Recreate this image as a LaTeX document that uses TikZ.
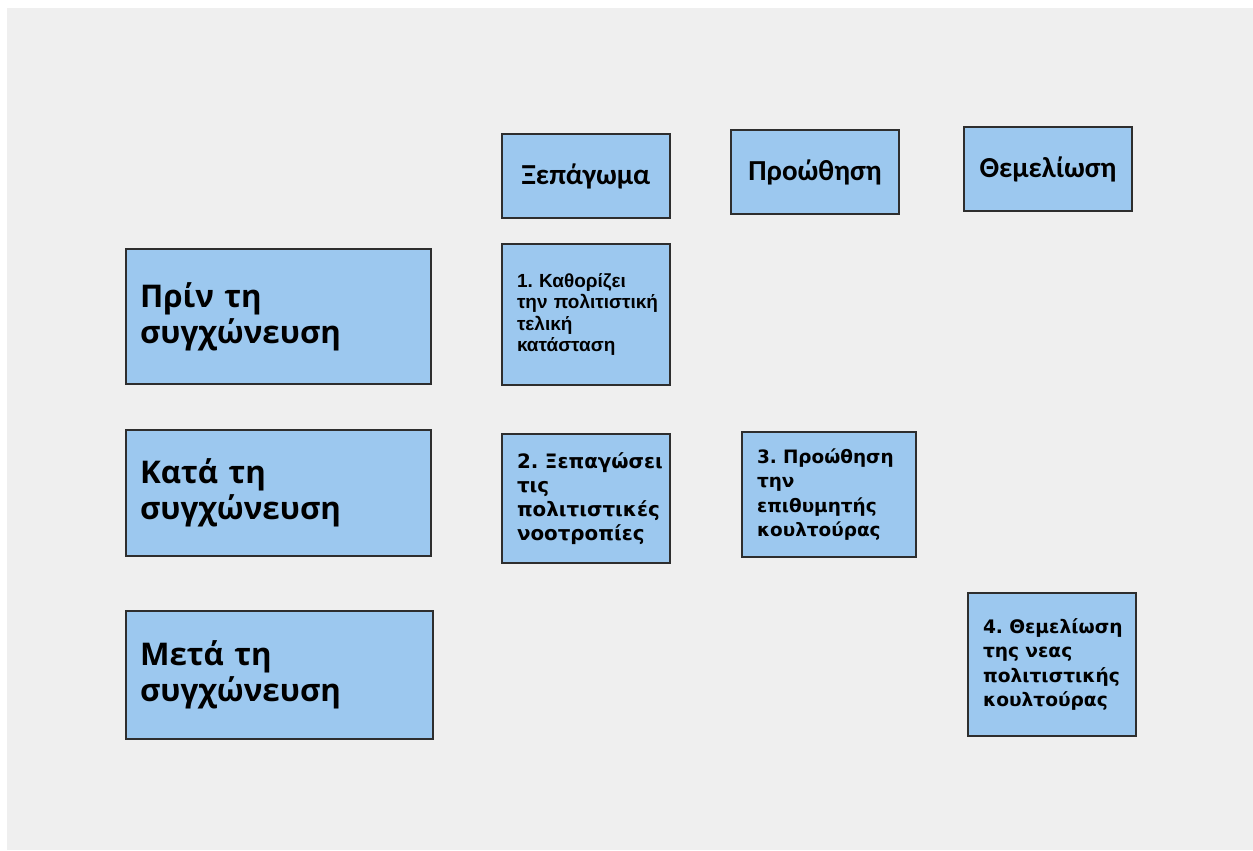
\documentclass[tikz,border=0pt]{standalone}
\usepackage{fontspec}
\setmainfont{Liberation Sans}
\newfontfamily\bigfont{Open Sans}
\newfontfamily\hdrfont{Carlito}
\newfontfamily\widefont{DejaVu Sans}
\definecolor{pagegray}{HTML}{EFEFEF}
\definecolor{boxblue}{HTML}{9CC8EF}
\definecolor{boxline}{HTML}{2E2E2E}
\tikzset{
  box/.style={draw=boxline, line width=1.3pt, fill=boxblue, inner sep=0pt},
  hdrbox/.style={box, minimum width=3.36cm, minimum height=1.68cm,
    font=\hdrfont\bfseries\fontsize{16.5}{19}\selectfont},
  stagebox/.style={box, align=left, text width=6.1cm,
    execute at begin node={\leftskip=0.28cm},
    font=\bigfont\bfseries\fontsize{17.8}{20.5}\selectfont},
  stepbox/.style={box, align=left, text width=3.36cm,
    execute at begin node={\leftskip=0.3cm\frenchspacing}}
}
\begin{document}
\begin{tikzpicture}[x=0.02cm, y=-0.02cm]
            \useasboundingbox (0,0) rectangle (1253,850);
            \fill[white] (0,0) rectangle (1253,850);
            \fill[pagegray] (7,8) rectangle (1253,850);
            % column headers
            \node[hdrbox] (xepagoma) at (586,176) {Ξεπάγωμα};
            \node[hdrbox] (proothisi) at (815,172) {Προώθηση};
            \node[hdrbox] (themeliosi) at (1048,169) {Θεμελίωση};
            % stages
            \node[stagebox, minimum height=2.7cm] (prin) at (278.5,316.5) {Πρίν τη\\συγχώνευση};
            \node[stagebox, minimum height=2.52cm] (kata) at (278.5,493) {Κατά τη\\συγχώνευση};
            \node[stagebox, text width=6.14cm, minimum height=2.56cm] (meta) at (279.5,675) {Μετά τη\\συγχώνευση};
            % steps
            \node[stepbox, minimum height=2.82cm, font=\bfseries\fontsize{10.8}{12.3}\selectfont]
            (vima1) at (586,314.5) {1. Καθορίζει\\την πολιτιστική\\τελική\\κατάσταση};
            \node[stepbox, minimum height=2.58cm, font=\widefont\bfseries\fontsize{11.3}{13.8}\selectfont]
            (vima2) at (586,498.5) {2.~Ξεπαγώσει\\τις\\πολιτιστικές\\νοοτροπίες};
            \node[stepbox, text width=3.48cm, minimum height=2.5cm, font=\widefont\bfseries\fontsize{10.5}{14}\selectfont]
            (vima3) at (829,494.5) {3. Προώθηση\\την\\επιθυμητής\\κουλτούρας};
            \node[stepbox, minimum height=2.86cm, font=\widefont\bfseries\fontsize{10.6}{13.8}\selectfont]
            (vima4) at (1052,664.5) {4. Θεμελίωση\\της νεας\\πολιτιστικής\\κουλτούρας};
\end{tikzpicture}
\end{document}
